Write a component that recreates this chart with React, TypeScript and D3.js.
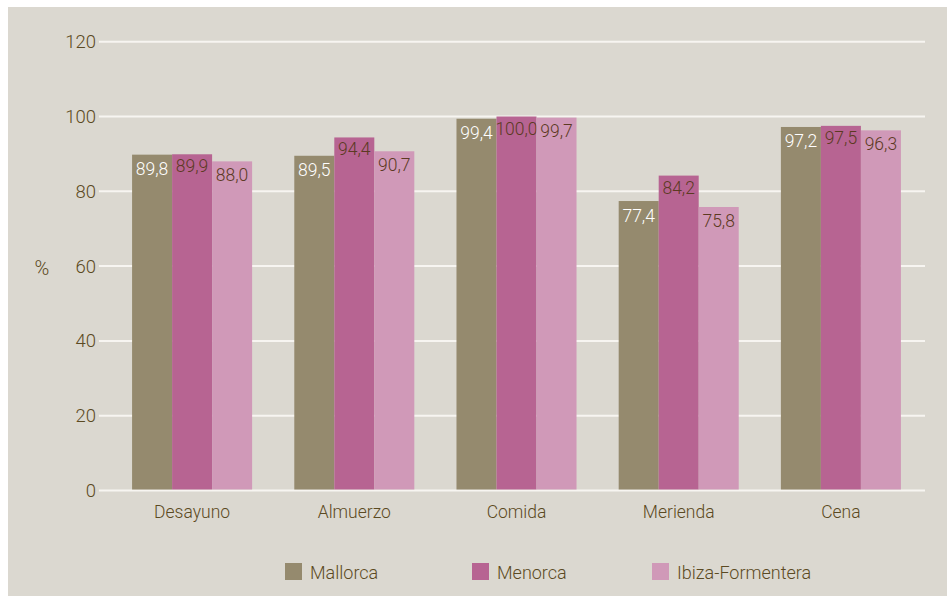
import React from "react";
import * as d3 from "d3";

const categories = ["Desayuno", "Almuerzo", "Comida", "Merienda", "Cena"];
const seriesNames = ["Mallorca", "Menorca", "Ibiza-Formentera"];
const mallorca = [89.8, 89.5, 99.4, 77.4, 97.2];
const menorca = [89.9, 94.4, 100.0, 84.2, 97.5];
const ibiza = [88.0, 90.7, 99.7, 75.8, 96.3];
const yTicks = [0, 20, 40, 60, 80, 100, 120];
const yLabel = "%";

const seriesValues = [mallorca, menorca, ibiza];
const colors = ["#958a6e", "#b76492", "#d099b8"];
const labelColors = ["#ffffff", "#5c3a22", "#5c3a22"];
const labelOffsets = [20.5, 18, 19.5];
const legendX = [285, 472, 652];

const W = 947;
const H = 596;
const TEXT = "#5b4a22";
const FONT = "Roboto, 'Open Sans', sans-serif";

const fmt = (v: number) => v.toFixed(1).replace(".", ",");

export default function App() {
  const y = d3.scaleLinear().domain([0, 120]).range([490.5, 41.7]);
  const x0 = d3
    .scaleBand<string>()
    .domain(categories)
    .range([111, 922])
    .paddingInner(0.26)
    .paddingOuter(0.13);
  const x1 = d3
    .scaleBand<string>()
    .domain(seriesNames)
    .range([0, x0.bandwidth()]);

  return (
    <svg
      width={W}
      height={H}
      style={{ position: "absolute", left: 0, top: 0, display: "block" }}
      fontFamily={FONT}
      fontWeight={300}
    >
      <rect x={0} y={0} width={W} height={H} fill="#ffffff" />
      <rect x={8} y={7} width={W - 8} height={H - 7} fill="#dbd8d0" />

      {yTicks.map((t) => (
        <g key={t}>
          <line x1={99} x2={925} y1={y(t)} y2={y(t)} stroke="#f7f5f1" strokeWidth={2} />
          <text
            x={96}
            y={y(t)}
            dy="0.35em"
            textAnchor="end"
            fontSize={18.5}
            fill={TEXT}
          >
            {t}
          </text>
        </g>
      ))}
      <text x={42} y={268} dy="0.35em" textAnchor="middle" fontSize={20} fill={TEXT}>
        {yLabel}
      </text>

      {categories.map((c, ci) => (
        <g key={c} transform={`translate(${x0(c)},0)`}>
          {seriesNames.map((s, si) => {
            const v = seriesValues[si][ci];
            const bx = x1(s) as number;
            return (
              <g key={s}>
                <rect
                  x={bx}
                  y={y(v)}
                  width={x1.bandwidth()}
                  height={y(0) - 1 - y(v)}
                  fill={colors[si]}
                />
                <text
                  x={bx + x1.bandwidth() / 2}
                  y={y(v) + labelOffsets[si]}
                  textAnchor="middle"
                  fontSize={17.5}
                  fill={labelColors[si]}
                >
                  {fmt(v)}
                </text>
              </g>
            );
          })}
          <text
            x={x0.bandwidth() / 2}
            y={517.5}
            textAnchor="middle"
            fontSize={17.5}
            fill={TEXT}
          >
            {c}
          </text>
        </g>
      ))}

      {seriesNames.map((s, si) => (
        <g key={s} transform={`translate(${legendX[si]},0)`}>
          <rect x={0} y={563} width={17} height={17} fill={colors[si]} />
          <text x={25} y={579} fontSize={18} fill={TEXT}>
            {s}
          </text>
        </g>
      ))}
    </svg>
  );
}
